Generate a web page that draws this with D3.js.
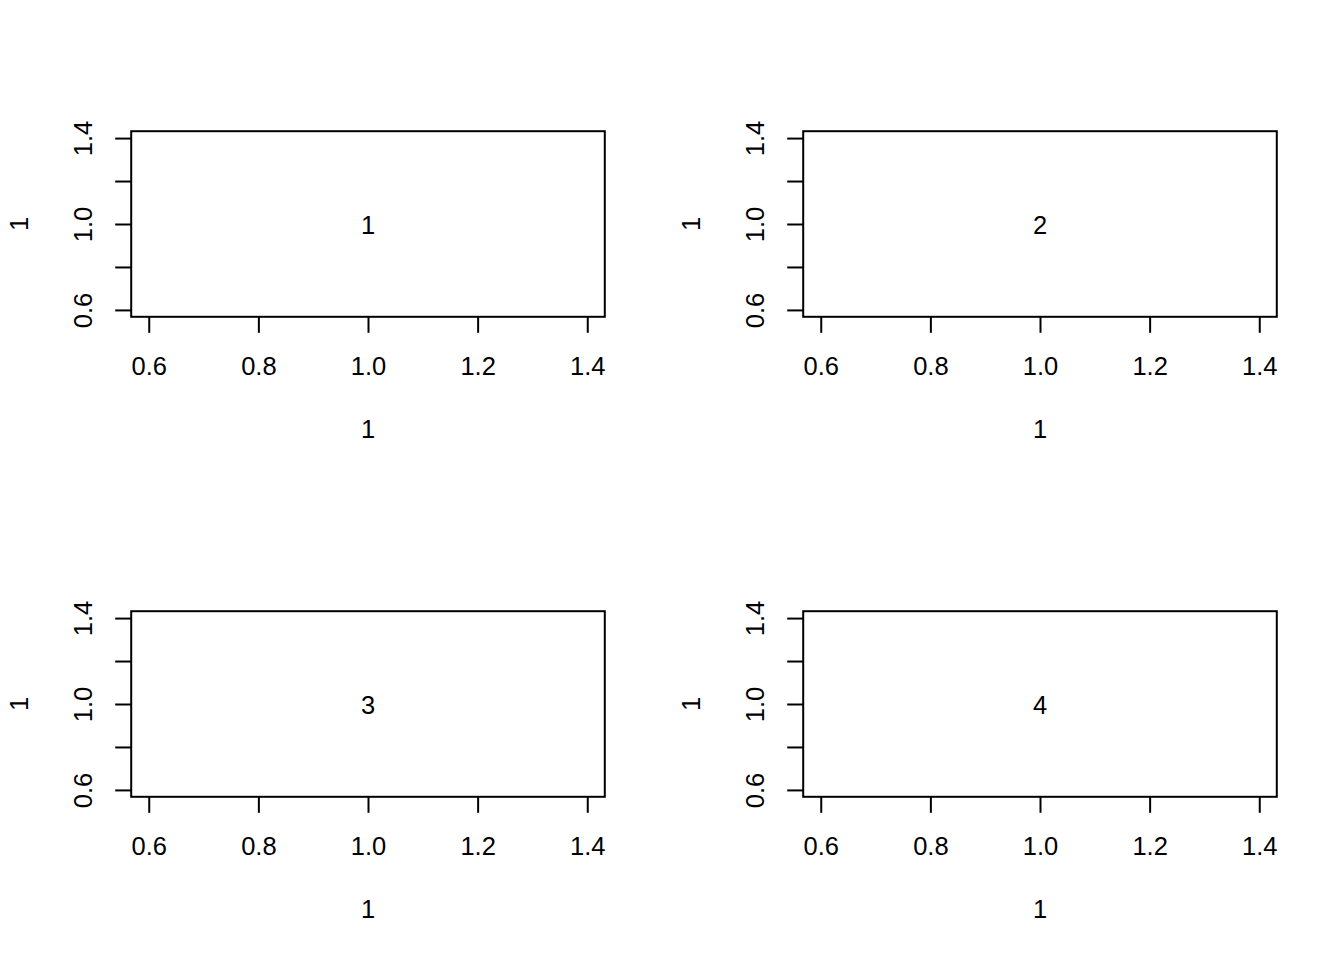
<!DOCTYPE html>
<html>
<head>
<meta charset="utf-8">
<script src="https://cdn.jsdelivr.net/npm/d3@7"></script>
<style>
  body { margin: 0; background: #fff; }
  svg { font-family: "Liberation Sans", Arial, sans-serif; }
</style>
</head>
<body>
<svg width="1344" height="960"></svg>
<script>
// panel labels, one per panel, drawn at the point (1, 1)
const panels = ['1', '2', '3', '4'];
const pointX = [1, 1, 1, 1];
const pointY = [1, 1, 1, 1];
const xTicks = [0.6, 0.8, 1.0, 1.2, 1.4];
const yTicks = [0.6, 0.8, 1.0, 1.2, 1.4];
const yLabels = [0.6, 1.0, 1.4];
const xTitle = '1';
const yTitle = '1';

const svg = d3.select('svg');
const width = +svg.attr('width');
const height = +svg.attr('height');
const cols = 2;
const rows = 2;
const cellW = width / cols;
const cellH = height / rows;
const line = 32;
const mar = { bottom: 5.1 * line, left: 4.1 * line, top: 4.1 * line, right: 2.1 * line };
const fontSize = 25.5;
const tickLen = 16;

// R extends a single-value range by 4% on each side
const lo = 0.6 - 0.032;
const hi = 1.4 + 0.032;

panels.forEach((label, i) => {
  const col = i % cols;
  const row = Math.floor(i / cols);
  const x0 = col * cellW + mar.left;
  const x1 = (col + 1) * cellW - mar.right;
  const y0 = row * cellH + mar.top;
  const y1 = (row + 1) * cellH - mar.bottom;

  const x = d3.scaleLinear().domain([lo, hi]).range([x0, x1]);
  const y = d3.scaleLinear().domain([lo, hi]).range([y1, y0]);

  const g = svg.append('g');

  const xAxis = g.append('g')
    .attr('transform', `translate(0,${y1})`)
    .call(d3.axisBottom(x)
      .tickValues(xTicks)
      .tickSize(tickLen)
      .tickSizeOuter(0)
      .tickPadding(0)
      .tickFormat(d3.format('.1f')));
  xAxis.select('.domain').remove();
  xAxis.selectAll('line').attr('stroke', '#000').attr('stroke-width', 2);
  xAxis.selectAll('text')
    .attr('y', 58)
    .attr('dy', null)
    .attr('font-size', fontSize)
    .attr('font-family', null)
    .attr('fill', '#000');

  const yAxis = g.append('g')
    .attr('transform', `translate(${x0},0)`)
    .call(d3.axisLeft(y)
      .tickValues(yTicks)
      .tickSize(tickLen)
      .tickSizeOuter(0)
      .tickFormat(d => yLabels.includes(d) ? d3.format('.1f')(d) : ''));
  yAxis.select('.domain').remove();
  yAxis.selectAll('line').attr('stroke', '#000').attr('stroke-width', 2);
  yAxis.selectAll('text')
    .attr('x', null)
    .attr('dy', null)
    .attr('text-anchor', 'middle')
    .attr('transform', 'translate(-39,0) rotate(-90)')
    .attr('font-size', fontSize)
    .attr('font-family', null)
    .attr('fill', '#000');

  g.append('rect')
    .attr('x', x0)
    .attr('y', y0)
    .attr('width', x1 - x0)
    .attr('height', y1 - y0)
    .attr('fill', 'none')
    .attr('stroke', '#000')
    .attr('stroke-width', 2);

  g.append('text')
    .attr('x', x(pointX[i]))
    .attr('y', y(pointY[i]))
    .attr('dy', '0.38em')
    .attr('text-anchor', 'middle')
    .attr('font-size', fontSize)
    .text(label);

  g.append('text')
    .attr('x', (x0 + x1) / 2)
    .attr('y', y1 + 121)
    .attr('text-anchor', 'middle')
    .attr('font-size', fontSize)
    .text(xTitle);

  g.append('text')
    .attr('transform', `translate(${x0 - 103},${(y0 + y1) / 2}) rotate(-90)`)
    .attr('text-anchor', 'middle')
    .attr('font-size', fontSize)
    .text(yTitle);
});
</script>
</body>
</html>
